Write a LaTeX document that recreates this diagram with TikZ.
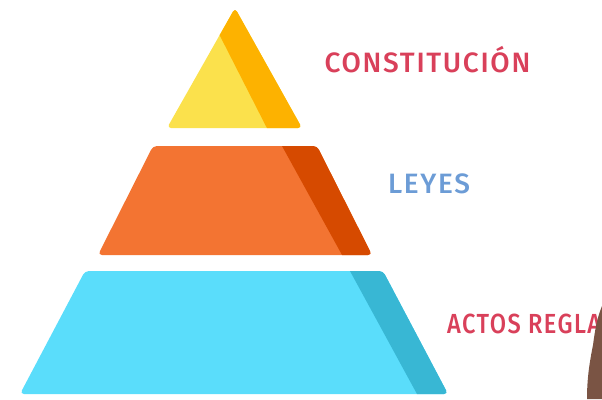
\documentclass[tikz,border=0pt]{standalone}
\usepackage{fontspec}
\setmainfont{Fira Sans}
\newfontfamily\labelfont{Fira Sans Medium}[LetterSpace=6]
\definecolor{yelLight}{HTML}{FBE14C}
\definecolor{yelDark}{HTML}{FDB200}
\definecolor{orgLight}{HTML}{F37432}
\definecolor{orgDark}{HTML}{D64A00}
\definecolor{cyaLight}{HTML}{5ADDFB}
\definecolor{cyaDark}{HTML}{38B7D4}
\definecolor{redTxt}{HTML}{D9405A}
\definecolor{blueTxt}{HTML}{6C9CD6}
\definecolor{skin}{HTML}{7A5444}
\begin{document}
\begin{tikzpicture}[x=1pt,y=-1pt,
  tierlabel/.style={font=\labelfont\fontsize{28}{28}\selectfont, inner sep=0pt, anchor=base}]
\useasboundingbox (0,0) rectangle (602,399);
% top tier
\begin{scope}
  \clip [rounded corners=4pt] (235,8) -- (302,128) -- (167,128) -- cycle;
  \fill [yelLight] (160,0) rectangle (310,135);
  \fill [yelDark] (201.7,0) -- (320,0) -- (320,140) -- (273,140) -- cycle;
\end{scope}
% middle tier
\begin{scope}
  \clip [rounded corners=4pt] (153,146) -- (317,146) -- (372,255) -- (98,255) -- cycle;
  \fill [orgLight] (90,140) rectangle (380,260);
  \fill [orgDark] (278.7,140) -- (380,140) -- (380,260) -- (344.8,260) -- cycle;
\end{scope}
% bottom tier
\begin{scope}
  \clip [rounded corners=4pt] (85,271) -- (383,271) -- (448,394) -- (20,394) -- cycle;
  \fill [cyaLight] (10,265) rectangle (460,399);
  \fill [cyaDark] (346.7,265) -- (460,265) -- (460,399) -- (419.7,399) -- cycle;
\end{scope}
\node [tierlabel, text=redTxt] (constitucion) at (427.5,72) {CONSTITUCIÓN};
\node [tierlabel, text=blueTxt] (leyes) at (429,193) {LEYES};
\node [tierlabel, text=redTxt, anchor=base west] (actos) at (447,333)
  {\resizebox{154pt}{19.5pt}{ACTOS REGLA}};
\fill [skin] (602,306) .. controls (597,318) and (595,330) .. (593,345) .. controls (589,365) and (587,380) .. (587,399) -- (602,399) -- cycle;
\end{tikzpicture}
\end{document}
